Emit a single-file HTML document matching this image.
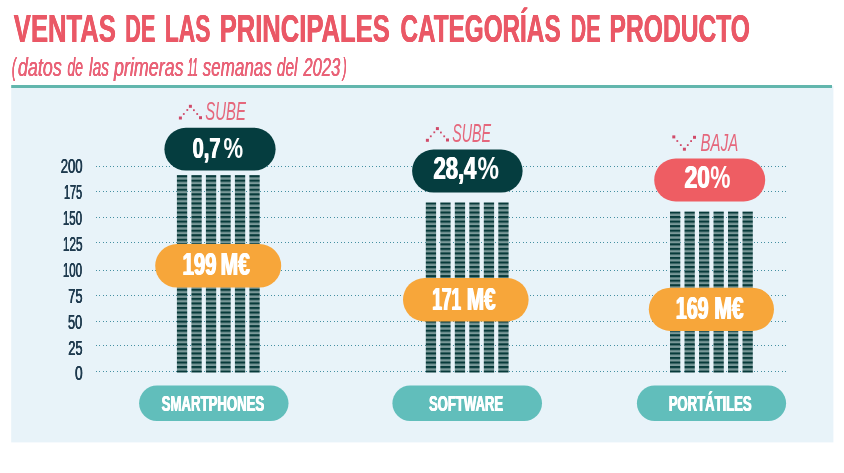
<!DOCTYPE html>
<html lang="es"><head><meta charset="utf-8"><title>Ventas de las principales categorías de producto</title>
<style>html,body{margin:0;padding:0;background:#fff}body{width:844px;height:473px;overflow:hidden}svg{display:block}text{font-family:"Liberation Sans",sans-serif}.b{font-weight:700}.i{font-style:italic}</style></head><body>
<svg width="844" height="473" viewBox="0 0 844 473">
<defs>
<pattern id="st" x="0" y="175.12" width="20" height="4.546" patternUnits="userSpaceOnUse"><rect x="0" y="0" width="20" height="4.546" fill="#7a9999"/><rect x="0" y="0" width="20" height="2.15" fill="#073a3a"/></pattern>
</defs>
<rect x="11.2" y="86" width="822.2" height="356.4" fill="#e8f3f9"/>
<rect x="11.2" y="85" width="820.8" height="3" fill="#62b6ad"/>
<line x1="96" x2="787" y1="166.5" y2="166.5" stroke="#4590a2" stroke-width="1" stroke-dasharray="1 2 1 3"/>
<line x1="96" x2="787" y1="191.5" y2="191.5" stroke="#4590a2" stroke-width="1" stroke-dasharray="1 2 1 3"/>
<line x1="96" x2="787" y1="217.5" y2="217.5" stroke="#4590a2" stroke-width="1" stroke-dasharray="1 2 1 3"/>
<line x1="96" x2="787" y1="242.5" y2="242.5" stroke="#4590a2" stroke-width="1" stroke-dasharray="1 2 1 3"/>
<line x1="96" x2="787" y1="270.5" y2="270.5" stroke="#4590a2" stroke-width="1" stroke-dasharray="1 2 1 3"/>
<line x1="96" x2="787" y1="295.5" y2="295.5" stroke="#4590a2" stroke-width="1" stroke-dasharray="1 2 1 3"/>
<line x1="96" x2="787" y1="321.5" y2="321.5" stroke="#4590a2" stroke-width="1" stroke-dasharray="1 2 1 3"/>
<line x1="96" x2="787" y1="345.5" y2="345.5" stroke="#4590a2" stroke-width="1" stroke-dasharray="1 2 1 3"/>
<line x1="96" x2="787" y1="371.5" y2="371.5" stroke="#4590a2" stroke-width="1" stroke-dasharray="1 2 1 3"/>
<rect x="176.9" y="175.1" width="10.3" height="197.5" fill="url(#st)"/>
<rect x="191.4" y="175.1" width="10.3" height="197.5" fill="url(#st)"/>
<rect x="205.9" y="175.1" width="10.3" height="197.5" fill="url(#st)"/>
<rect x="220.4" y="175.1" width="10.3" height="197.5" fill="url(#st)"/>
<rect x="234.9" y="175.1" width="10.3" height="197.5" fill="url(#st)"/>
<rect x="249.4" y="175.1" width="10.3" height="197.5" fill="url(#st)"/>
<rect x="425.8" y="202.4" width="10.3" height="170.2" fill="url(#st)"/>
<rect x="440.3" y="202.4" width="10.3" height="170.2" fill="url(#st)"/>
<rect x="454.8" y="202.4" width="10.3" height="170.2" fill="url(#st)"/>
<rect x="469.3" y="202.4" width="10.3" height="170.2" fill="url(#st)"/>
<rect x="483.8" y="202.4" width="10.3" height="170.2" fill="url(#st)"/>
<rect x="498.3" y="202.4" width="10.3" height="170.2" fill="url(#st)"/>
<rect x="670.0" y="211.5" width="10.3" height="161.1" fill="url(#st)"/>
<rect x="684.5" y="211.5" width="10.3" height="161.1" fill="url(#st)"/>
<rect x="699.0" y="211.5" width="10.3" height="161.1" fill="url(#st)"/>
<rect x="713.5" y="211.5" width="10.3" height="161.1" fill="url(#st)"/>
<rect x="728.0" y="211.5" width="10.3" height="161.1" fill="url(#st)"/>
<rect x="742.5" y="211.5" width="10.3" height="161.1" fill="url(#st)"/>
<rect x="164.4" y="127.8" width="111.2" height="42.8" rx="21.40" fill="#053d3f"/>
<rect x="412.1" y="149.5" width="110.5" height="43.1" rx="21.55" fill="#053d3f"/>
<rect x="654.2" y="158.5" width="111.0" height="43.0" rx="21.50" fill="#ee5d63"/>
<rect x="155.2" y="244" width="126.0" height="43.6" rx="21.80" fill="#f7a63a"/>
<rect x="403" y="278" width="125.6" height="43.5" rx="21.75" fill="#f7a63a"/>
<rect x="648.8" y="287.7" width="125.2" height="43.3" rx="21.65" fill="#f7a63a"/>
<rect x="139.1" y="385.5" width="149.4" height="35.5" rx="17.75" fill="#61bebb"/>
<rect x="392.4" y="385.5" width="149.6" height="35.5" rx="17.75" fill="#61bebb"/>
<rect x="636.9" y="385.5" width="149.2" height="35.5" rx="17.75" fill="#61bebb"/>
<rect x="178.9" y="116.5" width="3" height="3" fill="#d04a69"/>
<rect x="182.9" y="113.1" width="1.8" height="1.8" fill="#d04a69"/>
<rect x="186.4" y="109.1" width="1.8" height="1.8" fill="#d04a69"/>
<rect x="188.9" y="104.8" width="3" height="3" fill="#d04a69"/>
<rect x="193.0" y="109.3" width="1.8" height="1.8" fill="#d04a69"/>
<rect x="196.3" y="113.1" width="1.8" height="1.8" fill="#d04a69"/>
<rect x="199.0" y="116.2" width="3" height="3" fill="#d04a69"/>
<rect x="425.9" y="138.8" width="3" height="3" fill="#d04a69"/>
<rect x="429.9" y="135.4" width="1.8" height="1.8" fill="#d04a69"/>
<rect x="433.4" y="131.4" width="1.8" height="1.8" fill="#d04a69"/>
<rect x="435.9" y="127.1" width="3" height="3" fill="#d04a69"/>
<rect x="440.0" y="131.6" width="1.8" height="1.8" fill="#d04a69"/>
<rect x="443.3" y="135.4" width="1.8" height="1.8" fill="#d04a69"/>
<rect x="446.0" y="138.5" width="3" height="3" fill="#d04a69"/>
<rect x="672.3" y="135.4" width="3" height="3" fill="#d04a69"/>
<rect x="676.4" y="140.1" width="1.8" height="1.8" fill="#d04a69"/>
<rect x="679.9" y="144.2" width="1.8" height="1.8" fill="#d04a69"/>
<rect x="682.9" y="147.7" width="3" height="3" fill="#d04a69"/>
<rect x="686.9" y="144.2" width="1.8" height="1.8" fill="#d04a69"/>
<rect x="690.2" y="140.2" width="1.8" height="1.8" fill="#d04a69"/>
<rect x="693.0" y="135.8" width="3" height="3" fill="#d04a69"/>
<text y="41.8" font-size="38.7" fill="#ea5866" class="b" style="text-shadow:0.4px 0 0 #ea5866,-0.4px 0 0 #ea5866"><tspan x="13.81" textLength="102.13" lengthAdjust="spacingAndGlyphs">VENTAS</tspan> <tspan x="125.35" textLength="29.97" lengthAdjust="spacingAndGlyphs">DE</tspan> <tspan x="164.88" textLength="45.52" lengthAdjust="spacingAndGlyphs">LAS</tspan> <tspan x="219.74" textLength="170.00" lengthAdjust="spacingAndGlyphs">PRINCIPALES</tspan> <tspan x="400.44" textLength="160.17" lengthAdjust="spacingAndGlyphs">CATEGORÍAS</tspan> <tspan x="570.65" textLength="29.85" lengthAdjust="spacingAndGlyphs">DE</tspan> <tspan x="609.58" textLength="140.39" lengthAdjust="spacingAndGlyphs">PRODUCTO</tspan></text>
<text y="75.8" font-size="25.6" fill="#e96277" class="i" style="text-shadow:0.2px 0 0 #e96277,-0.2px 0 0 #e96277"><tspan x="11.89" textLength="4.11" lengthAdjust="spacingAndGlyphs">(</tspan><tspan x="17.93" textLength="43.84" lengthAdjust="spacingAndGlyphs">datos</tspan> <tspan x="67.40" textLength="15.52" lengthAdjust="spacingAndGlyphs">de</tspan> <tspan x="89.07" textLength="19.93" lengthAdjust="spacingAndGlyphs">las</tspan> <tspan x="113.99" textLength="69.58" lengthAdjust="spacingAndGlyphs">primeras</tspan> <tspan x="187.57" textLength="10.22" lengthAdjust="spacingAndGlyphs">11</tspan> <tspan x="202.71" textLength="69.18" lengthAdjust="spacingAndGlyphs">semanas</tspan> <tspan x="276.99" textLength="20.42" lengthAdjust="spacingAndGlyphs">del</tspan> <tspan x="303.48" textLength="36.73" lengthAdjust="spacingAndGlyphs">2023</tspan><tspan x="342.78" textLength="3.85" lengthAdjust="spacingAndGlyphs">)</tspan></text>
<text y="172.8" font-size="19.3" fill="#1f3b4f" style="text-shadow:0.3px 0 0 #1f3b4f,-0.3px 0 0 #1f3b4f"><tspan x="60.68" textLength="21.92" lengthAdjust="spacingAndGlyphs">200</tspan></text>
<text y="198.8" font-size="19.3" fill="#1f3b4f" style="text-shadow:0.3px 0 0 #1f3b4f,-0.3px 0 0 #1f3b4f"><tspan x="64.00" textLength="18.10" lengthAdjust="spacingAndGlyphs">175</tspan></text>
<text y="224.7" font-size="19.3" fill="#1f3b4f" style="text-shadow:0.3px 0 0 #1f3b4f,-0.3px 0 0 #1f3b4f"><tspan x="62.90" textLength="19.17" lengthAdjust="spacingAndGlyphs">150</tspan></text>
<text y="250.7" font-size="19.3" fill="#1f3b4f" style="text-shadow:0.3px 0 0 #1f3b4f,-0.3px 0 0 #1f3b4f"><tspan x="62.91" textLength="19.59" lengthAdjust="spacingAndGlyphs">125</tspan></text>
<text y="276.6" font-size="19.3" fill="#1f3b4f" style="text-shadow:0.3px 0 0 #1f3b4f,-0.3px 0 0 #1f3b4f"><tspan x="62.90" textLength="19.17" lengthAdjust="spacingAndGlyphs">100</tspan></text>
<text y="302.6" font-size="19.3" fill="#1f3b4f" style="text-shadow:0.3px 0 0 #1f3b4f,-0.3px 0 0 #1f3b4f"><tspan x="68.20" textLength="14.40" lengthAdjust="spacingAndGlyphs">75</tspan></text>
<text y="328.5" font-size="19.3" fill="#1f3b4f" style="text-shadow:0.3px 0 0 #1f3b4f,-0.3px 0 0 #1f3b4f"><tspan x="68.00" textLength="14.19" lengthAdjust="spacingAndGlyphs">50</tspan></text>
<text y="354.5" font-size="19.3" fill="#1f3b4f" style="text-shadow:0.3px 0 0 #1f3b4f,-0.3px 0 0 #1f3b4f"><tspan x="68.20" textLength="14.40" lengthAdjust="spacingAndGlyphs">25</tspan></text>
<text y="380.4" font-size="19.3" fill="#1f3b4f" style="text-shadow:0.3px 0 0 #1f3b4f,-0.3px 0 0 #1f3b4f"><tspan x="75.03" textLength="7.67" lengthAdjust="spacingAndGlyphs">0</tspan></text>
<text y="157.8" font-size="30.2" fill="#fff" class="b" style="text-shadow:0.7px 0 0 #fff,-0.7px 0 0 #fff"><tspan x="192.60" textLength="27.93" lengthAdjust="spacingAndGlyphs">0,7</tspan><tspan x="223.54" textLength="19.62" lengthAdjust="spacingAndGlyphs" style="text-shadow:none">%</tspan></text>
<text y="178.8" font-size="30.9" fill="#fff" class="b" style="text-shadow:0.7px 0 0 #fff,-0.7px 0 0 #fff"><tspan x="433.40" textLength="42.98" lengthAdjust="spacingAndGlyphs">28,4</tspan><tspan x="477.54" textLength="21.48" lengthAdjust="spacingAndGlyphs" style="text-shadow:none">%</tspan></text>
<text y="188.0" font-size="30.8" fill="#fff" class="b" style="text-shadow:0.7px 0 0 #fff,-0.7px 0 0 #fff"><tspan x="684.63" textLength="25.22" lengthAdjust="spacingAndGlyphs">20</tspan><tspan x="710.18" textLength="20.22" lengthAdjust="spacingAndGlyphs" style="text-shadow:none">%</tspan></text>
<text y="274.6" font-size="30.7" fill="#fff" class="b" style="text-shadow:1.0px 0 0 #fff,-1.0px 0 0 #fff"><tspan x="182.60" textLength="33.92" lengthAdjust="spacingAndGlyphs">199</tspan> <tspan x="220.68" textLength="29.20" lengthAdjust="spacingAndGlyphs">M€</tspan></text>
<text y="309.8" font-size="30.7" fill="#fff" class="b" style="text-shadow:1.0px 0 0 #fff,-1.0px 0 0 #fff"><tspan x="432.35" textLength="28.66" lengthAdjust="spacingAndGlyphs">171</tspan> <tspan x="466.92" textLength="28.64" lengthAdjust="spacingAndGlyphs">M€</tspan></text>
<text y="318.8" font-size="30.8" fill="#fff" class="b" style="text-shadow:1.0px 0 0 #fff,-1.0px 0 0 #fff"><tspan x="675.93" textLength="32.52" lengthAdjust="spacingAndGlyphs">169</tspan> <tspan x="714.35" textLength="29.13" lengthAdjust="spacingAndGlyphs">M€</tspan></text>
<text y="410.5" font-size="21.3" fill="#fff" class="b" style="text-shadow:0.6px 0 0 #fff,-0.6px 0 0 #fff"><tspan x="161.71" textLength="102.55" lengthAdjust="spacingAndGlyphs">SMARTPHONES</tspan></text>
<text y="410.5" font-size="21.3" fill="#fff" class="b" style="text-shadow:0.6px 0 0 #fff,-0.6px 0 0 #fff"><tspan x="429.00" textLength="74.17" lengthAdjust="spacingAndGlyphs">SOFTWARE</tspan></text>
<text y="410.5" font-size="21.3" fill="#fff" class="b" style="text-shadow:0.6px 0 0 #fff,-0.6px 0 0 #fff"><tspan x="668.78" textLength="82.82" lengthAdjust="spacingAndGlyphs">PORTÁTILES</tspan></text>
<text y="119.8" font-size="25" fill="#e5677c" class="i"><tspan x="205.21" textLength="40.63" lengthAdjust="spacingAndGlyphs">SUBE</tspan></text>
<text y="142.1" font-size="25" fill="#e5677c" class="i"><tspan x="452.24" textLength="38.89" lengthAdjust="spacingAndGlyphs">SUBE</tspan></text>
<text y="150.9" font-size="23.5" fill="#e5677c" class="i"><tspan x="700.60" textLength="37.56" lengthAdjust="spacingAndGlyphs">BAJA</tspan></text>
</svg></body></html>
